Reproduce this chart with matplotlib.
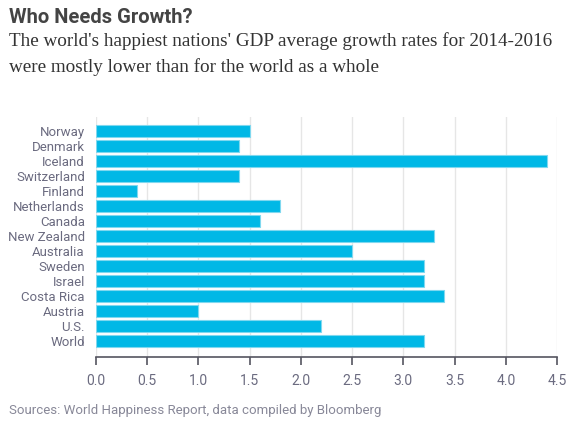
import matplotlib.pyplot as plt

countries = ["Norway", "Denmark", "Iceland", "Switzerland", "Finland",
             "Netherlands", "Canada", "New Zealand", "Australia", "Sweden",
             "Israel", "Costa Rica", "Austria", "U.S.", "World"]
growth = [1.5, 1.4, 4.4, 1.4, 0.4, 1.8, 1.6, 3.3, 2.5, 3.2, 3.2, 3.4, 1.0, 2.2, 3.2]
xticks = [0.0, 0.5, 1.0, 1.5, 2.0, 2.5, 3.0, 3.5, 4.0, 4.5]

BAR = "#00b8e6"
TEXT = "#6b6b80"
SANS = "Roboto"


def main():
    fig = plt.figure(figsize=(5.86, 4.26), dpi=100)
    ax = fig.add_axes((0.1638, 0.162, 0.7867, 0.5634))

    pos = list(range(len(countries)))
    ax.barh(pos, growth, height=0.8, color=BAR, edgecolor="#7fd8ef", linewidth=0.8, zorder=3)

    ax.set_xlim(0, 4.5)
    ax.set_ylim(len(countries) + 0.07, -0.93)
    ax.set_xticks(xticks)
    ax.set_xticklabels([f"{t:.1f}" for t in xticks], family=SANS)
    ax.set_yticks(pos)
    ax.set_yticklabels(countries, family=SANS)

    ax.grid(axis="x", color="#e6e6e6", linewidth=1, zorder=0)
    for s in ["top", "right", "left"]:
        ax.spines[s].set_visible(False)
    ax.spines["bottom"].set_color("#555560")
    ax.spines["bottom"].set_linewidth(1.2)

    ax.tick_params(axis="x", colors="#555560", length=6, width=1.2, labelcolor=TEXT,
                   labelsize=10, pad=6)
    ax.tick_params(axis="y", length=0, labelcolor=TEXT, labelsize=9.5, pad=8)

    fig.text(0.015, 0.946, "Who Needs Growth?", fontsize=14.5, fontweight="bold",
             family=SANS, color="#444444", ha="left", va="baseline")
    fig.text(0.015, 0.892, "The world's happiest nations' GDP average growth rates for 2014-2016",
             fontsize=13.8, family="Liberation Serif", color="#333333", ha="left", va="baseline")
    fig.text(0.015, 0.831, "were mostly lower than for the world as a whole",
             fontsize=13.8, family="Liberation Serif", color="#333333", ha="left", va="baseline")
    fig.text(0.015, 0.028, "Sources: World Happiness Report, data compiled by Bloomberg",
             fontsize=9.5, family=SANS, color="#888898", ha="left", va="baseline")

    fig.savefig("out.png", dpi=100)
    plt.close(fig)


if __name__ == "__main__":
    main()
